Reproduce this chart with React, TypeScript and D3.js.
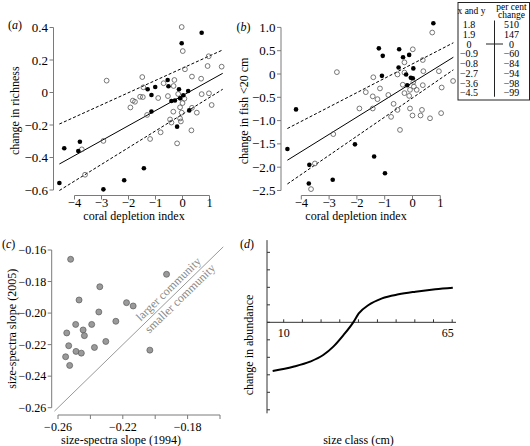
import React from "react";
import * as d3 from "d3";

// ---------- Panel (a): change in richness vs coral depletion index ----------
const aFilledX = [-4.56, -4.38, -3.8, -3.86, -2.93, -2.16, -1.43, -1.29, -1.01, -1.15, -1.15, -0.55, -0.52, -0.13, 0.21, 0.03, -0.09, -0.41, -0.28, -0.2, 0.25, -0.03, 0.71];
const aFilledY = [-0.557, -0.343, -0.303, -0.36, -0.596, -0.54, -0.466, 0.02, 0.034, -0.015, -0.117, 0.077, 0.038, 0.02, 0.009, -0.017, -0.036, -0.052, -0.049, -0.21, -0.11, 0.303, 0.368];
const aOpenX = [-2.81, -2.93, -3.73, -3.61, -1.93, -1.76, -1.49, -1.45, -1.47, -1.31, -1.2, -0.9, -0.81, -0.7, -0.54, -0.46, -0.41, -0.33, -0.3, -0.2, -0.16, -0.09, -0.09, -0.06, -0.03, 0.01, 0.0, 0.07, 0.09, 0.33, 0.35, 0.35, 0.53, 0.69, 0.71, 0.97, 0.93, 1.45, 0.98, 1.08, -1.57, -1.84, -0.03, -0.34];
const aOpenY = [0.073, -0.298, -0.35, -0.506, -0.092, -0.057, 0.095, 0.032, -0.028, -0.138, -0.286, -0.034, -0.245, 0.057, -0.022, -0.166, -0.185, 0.04, 0.077, -0.313, -0.009, -0.091, -0.16, -0.178, 0.403, 0.255, -0.065, -0.038, 0.143, -0.233, -0.094, 0.098, -0.124, 0.085, -0.01, 0.223, 0.163, 0.159, -0.005, -0.077, -0.026, -0.05, -0.124, -0.118];
const aLineX = [-4.56, 1.49];
const aFitY = [-0.44, 0.118];
const aUpperY = [-0.194, 0.262];
const aLowerY = [-0.603, 0.02];
const aYTicks = [-0.6, -0.4, -0.2, 0, 0.2, 0.4];
const aYTickLabels = ["\u22120.6", "\u22120.4", "\u22120.2", "0", "0.2", "0.4"];

// ---------- Panel (b): change in fish <20 cm vs coral depletion index ----------
const bFilledX = [-4.5, -4.19, -3.71, -3.73, -2.87, -2.07, -1.38, -0.99, -1.21, -1.07, -1.1, -0.48, -0.34, -0.12, -0.5, -0.23, -0.06, 0.03, 0.01, -0.19, 0.75];
const bFilledY = [-1.61, -0.76, -1.95, -2.35, -2.27, -1.51, -1.77, -2.13, 0.55, 0.39, -0.04, 0.53, 0.36, 0.41, 0.14, -0.01, -0.08, 0.12, -0.09, -0.24, 1.09];
const bOpenX = [-2.72, -2.85, -3.51, -3.65, -1.41, -1.68, -1.17, -1.43, -1.26, -1.91, -1.43, -0.87, -0.77, -0.68, -0.54, -0.45, -0.54, -0.29, -0.29, -0.35, -0.29, -0.09, -0.12, 0.05, -0.09, 0.0, 0.29, 0.34, 0.63, 1.03, 0.01, 0.71, 0.37, 0.39, 0.95, 1.46, 1.05, 0.03, 0.37, 0.15];
const bOpenY = [0.04, -1.29, -1.92, -2.47, -0.07, -0.39, -0.31, -0.48, -0.54, -0.74, -0.74, -0.45, -0.92, -0.64, -0.77, -1.2, -0.01, 0.25, 0.03, -0.23, -0.41, -0.34, -0.47, -0.27, -0.74, -0.89, -0.89, -0.77, -0.95, -0.84, 0.53, 0.89, 0.3, 0.06, 0.06, -0.15, -0.29, -0.17, -0.24, -0.34];
const bLineX = [-4.5, 1.47];
const bFitY = [-1.85, 0.36];
const bUpperY = [-1.17, 0.67];
const bLowerY = [-2.36, 0.09];
const bYTicks = [-2.5, -2.0, -1.5, -1.0, -0.5, 0, 0.5, 1.0];
const bYTickLabels = ["\u22122.5", "\u22122.0", "\u22121.5", "\u22121.0", "\u22120.5", "0", "0.5", "1.0"];

const depletionTicks = [-4, -3, -2, -1, 0, 1];
const depletionTickLabels = ["\u22124", "\u22123", "\u22122", "\u22121", "0", "1"];

// ---------- Table ----------
const tableXY = ["1.8", "1.9", "0", "\u22120.9", "\u22120.8", "\u22122.7", "\u22123.6", "\u22124.5"];
const tablePct = ["510", "147", "0", "\u221260", "\u221284", "\u221294", "\u221298", "\u221299"];

// ---------- Panel (c): size-spectra slopes ----------
const slope1994 = [-0.2522, -0.193, -0.2342, -0.247, -0.2348, -0.2177, -0.2136, -0.2243, -0.2491, -0.2392, -0.2445, -0.2437, -0.2546, -0.2305, -0.2534, -0.2375, -0.2489, -0.2456, -0.2033, -0.2553, -0.2528];
const slope2005 = [-0.1659, -0.1754, -0.1833, -0.1917, -0.1993, -0.1934, -0.1955, -0.2052, -0.2072, -0.2072, -0.2107, -0.2143, -0.2126, -0.218, -0.2207, -0.2218, -0.2243, -0.2254, -0.2235, -0.2277, -0.2332];
const cTicks = [-0.26, -0.24, -0.22, -0.2, -0.18, -0.16];
const cYTickLabels = ["\u22120.26", "\u22120.24", "\u22120.22", "\u22120.20", "\u22120.18", "\u22120.16"];
const cXTickLabels = ["\u22120.26", "", "\u22120.22", "", "\u22120.18", ""];
const cDiagonal = [-0.2622, -0.158];

// ---------- Panel (d): change in abundance by size class ----------
const sizeClass = [6.4, 13.1, 18.6, 22.9, 26.2, 29.5, 32.7, 34.5, 37.7, 42.1, 47.5, 53.0, 59.5, 65.2];
const abundanceChange = [-2.78, -2.54, -2.25, -1.87, -1.39, -0.73, 0, 0.51, 0.99, 1.37, 1.6, 1.75, 1.89, 1.98];
const dXTicks = [10, 16.1, 22.2, 28.3, 34.4, 40.6, 46.7, 52.8, 58.9, 65];
const dYTicks = [-5, -4, -3, -2, -1, 0, 1, 2, 3, 4];

const FONT = "Liberation Serif, Times New Roman, DejaVu Serif, serif";
const AX = "#7a7a7a";

type ScatterProps = {
  xs: d3.ScaleLinear<number, number>;
  ys: d3.ScaleLinear<number, number>;
  yAxisX: number;
  xAxisY: number;
  fx: number[]; fy: number[]; ox: number[]; oy: number[];
  lineX: number[]; fit: number[]; up: number[]; lo: number[];
  yTicks: number[]; yTickLabels: string[];
  yTitle: string; yTitleX: number; xTitleX: number;
  tag: string; tagX: number; tagY: number;
};

function ScatterPanel(p: ScatterProps) {
  const line = d3.line<[number, number]>().x((d) => p.xs(d[0])).y((d) => p.ys(d[1]));
  const seg = (ys: number[]) => line(p.lineX.map((x, i) => [x, ys[i]] as [number, number])) || "";
  const yT = p.yTicks;
  return (
    <g>
      <line x1={p.yAxisX} x2={p.yAxisX} y1={p.ys(yT[0])} y2={p.ys(yT[yT.length - 1])} stroke={AX} />
      {yT.map((t, i) => (
        <g key={"yt" + i}>
          <line x1={p.yAxisX - 4} x2={p.yAxisX} y1={p.ys(t)} y2={p.ys(t)} stroke={AX} />
          <text x={p.yAxisX - 5.5} y={p.ys(t) + 4.5} textAnchor="end" style={{ fontSize: "13px" }}>{p.yTickLabels[i]}</text>
        </g>
      ))}
      <line x1={p.xs(depletionTicks[0])} x2={p.xs(depletionTicks[depletionTicks.length - 1])} y1={p.xAxisY} y2={p.xAxisY} stroke={AX} />
      {depletionTicks.map((t, i) => (
        <g key={"xt" + i}>
          <line x1={p.xs(t)} x2={p.xs(t)} y1={p.xAxisY} y2={p.xAxisY + 4} stroke={AX} />
          <text x={p.xs(t)} y={p.xAxisY + 11.5} textAnchor="middle" style={{ fontSize: "12.5px" }}>{depletionTickLabels[i]}</text>
        </g>
      ))}
      <text x={p.xTitleX} y={p.xAxisY + 24.5} textAnchor="middle">coral depletion index</text>
      <text transform={`translate(${p.yTitleX},${(p.ys(yT[0]) + p.ys(yT[yT.length - 1])) / 2 + 2}) rotate(-90)`} textAnchor="middle">{p.yTitle}</text>
      <text x={p.tagX} y={p.tagY}>(<tspan fontStyle="italic">{p.tag}</tspan>)</text>
      <path d={seg(p.fit)} stroke="#000" strokeWidth={1} fill="none" />
      <path d={seg(p.up)} stroke="#000" strokeWidth={1} fill="none" strokeDasharray="3,2" />
      <path d={seg(p.lo)} stroke="#000" strokeWidth={1} fill="none" strokeDasharray="3,2" />
      {p.ox.map((x, i) => (
        <circle key={"o" + i} cx={p.xs(x)} cy={p.ys(p.oy[i])} r={2.4} fill="none" stroke="#555" strokeWidth={0.8} />
      ))}
      {p.fx.map((x, i) => (
        <circle key={"f" + i} cx={p.xs(x)} cy={p.ys(p.fy[i])} r={2.3} fill="#000" />
      ))}
    </g>
  );
}

export default function App() {
  const xA = d3.scaleLinear().domain([-4, 1]).range([74.5, 209.5]);
  const yA = d3.scaleLinear().domain([-0.6, 0.4]).range([190, 27.5]);
  const xB = d3.scaleLinear().domain([-4, 1]).range([301.3, 440.3]);
  const yB = d3.scaleLinear().domain([-2.5, 1.0]).range([190.5, 27.4]);

  const xC = d3.scaleLinear().domain([-0.26, -0.16]).range([58, 220]);
  const yC = d3.scaleLinear().domain([-0.26, -0.16]).range([407.7, 250]);
  const cYAxisX = 51.7;
  const cXAxisY = 415;

  const xD = d3.scaleLinear().domain([10, 65]).range([283.7, 452.2]);
  const yD = d3.scaleLinear().domain([-5.2, 4.7]).range([413.3, 240.1]);
  const dYAxisX = 267;
  const curve = d3
    .line<number>()
    .x((_, i) => xD(sizeClass[i]))
    .y((d) => yD(d))
    .curve(d3.curveMonotoneX);

  const tLeft = 458, tRight = 529.5, tTop = 2.5, tBottom = 100;
  const rowY = (i: number) => 24.5 + i * 9.75;
  const midAngle = -44.3;

  return (
    <svg width={530} height={446}
      style={{ position: "absolute", left: 0, top: 0, background: "#fff", fontFamily: FONT, fontSize: "12px" }}
      fill="#000">
      <ScatterPanel xs={xA} ys={yA} yAxisX={53.5} xAxisY={195.5}
        fx={aFilledX} fy={aFilledY} ox={aOpenX} oy={aOpenY}
        lineX={aLineX} fit={aFitY} up={aUpperY} lo={aLowerY}
        yTicks={aYTicks} yTickLabels={aYTickLabels}
        yTitle="change in richness" yTitleX={19} xTitleX={134}
        tag="a" tagX={8} tagY={29} />
      <ScatterPanel xs={xB} ys={yB} yAxisX={281} xAxisY={195.5}
        fx={bFilledX} fy={bFilledY} ox={bOpenX} oy={bOpenY}
        lineX={bLineX} fit={bFitY} up={bUpperY} lo={bLowerY}
        yTicks={bYTicks} yTickLabels={bYTickLabels}
        yTitle="change in fish <20 cm" yTitleX={247.5} xTitleX={356}
        tag="b" tagX={236.5} tagY={31} />

      <g style={{ fontSize: "10px" }}>
        <rect x={tLeft} y={tTop} width={tRight - tLeft} height={tBottom - tTop} fill="none" stroke="#222" strokeWidth={1} />
        <text x={471.5} y={13.5} textAnchor="middle" style={{ fontSize: "9.5px" }}>x and y</text>
        <text x={511.5} y={9.5} textAnchor="middle" style={{ fontSize: "9.5px" }}>per cent</text>
        <text x={511.5} y={18} textAnchor="middle" style={{ fontSize: "9.5px" }}>change</text>
        <line x1={494.5} x2={494.5} y1={rowY(0) - 4} y2={rowY(tableXY.length - 1) + 4} stroke="#222" strokeWidth={1} />
        <line x1={486} x2={503} y1={rowY(2)} y2={rowY(2)} stroke="#222" strokeWidth={1} />
        {tableXY.map((v, i) => (
          <text key={"tx" + i} x={469} y={rowY(i) + 3.5} textAnchor="middle">{v}</text>
        ))}
        {tablePct.map((v, i) => (
          <text key={"tp" + i} x={511.5} y={rowY(i) + 3.5} textAnchor="middle">{v}</text>
        ))}
      </g>

      <g>
        <line x1={cYAxisX} x2={cYAxisX} y1={yC(-0.26)} y2={yC(-0.16)} stroke={AX} />
        {cTicks.map((t, i) => (
          <g key={"cy" + i}>
            <line x1={cYAxisX - 4} x2={cYAxisX} y1={yC(t)} y2={yC(t)} stroke={AX} />
            <text x={cYAxisX - 5.5} y={yC(t) + 4.2} textAnchor="end">{cYTickLabels[i]}</text>
          </g>
        ))}
        <line x1={xC(-0.26)} x2={xC(-0.16)} y1={cXAxisY} y2={cXAxisY} stroke={AX} />
        {cTicks.map((t, i) => (
          <g key={"cx" + i}>
            <line x1={xC(t)} x2={xC(t)} y1={cXAxisY} y2={cXAxisY + 4} stroke={AX} />
            {cXTickLabels[i] && (
              <text x={xC(t)} y={cXAxisY + 15.5} textAnchor="middle">{cXTickLabels[i]}</text>
            )}
          </g>
        ))}
        <text x={121} y={443.5} textAnchor="middle">size-spectra slope (1994)</text>
        <text transform={`translate(16,${(yC(-0.26) + yC(-0.16)) / 2}) rotate(-90)`} textAnchor="middle">size-spectra slope (2005)</text>
        <text x={2} y={247.5}>(<tspan fontStyle="italic">c</tspan>)</text>
        <line x1={xC(cDiagonal[0])} y1={yC(cDiagonal[0])} x2={xC(cDiagonal[1])} y2={yC(cDiagonal[1])} stroke="#999" strokeWidth={1} />
        <text transform={`translate(168.5,289) rotate(${midAngle})`} textAnchor="middle" dominantBaseline="central" fill="#888">larger community</text>
        <text transform={`translate(180,298.5) rotate(${midAngle})`} textAnchor="middle" dominantBaseline="central" fill="#888">smaller community</text>
        {slope1994.map((x, i) => (
          <circle key={"c" + i} cx={xC(x)} cy={yC(slope2005[i])} r={3} fill="#9a9a9a" stroke="#5a5a5a" strokeWidth={0.7} />
        ))}
      </g>

      <g>
        <line x1={dYAxisX} x2={dYAxisX} y1={yD(4.7)} y2={yD(-5.2)} stroke="#333" strokeWidth={1} />
        {dYTicks.map((t, i) => (
          <line key={"dy" + i} x1={dYAxisX} x2={dYAxisX + 3} y1={yD(t)} y2={yD(t)} stroke="#333" />
        ))}
        <line x1={dYAxisX} x2={456} y1={yD(0)} y2={yD(0)} stroke="#333" strokeWidth={1} />
        {dXTicks.map((t, i) => (
          <line key={"dx" + i} x1={xD(t)} x2={xD(t)} y1={yD(0)} y2={yD(0) - 3} stroke="#333" />
        ))}
        <text x={xD(dXTicks[0])} y={yD(0) + 15} textAnchor="middle">10</text>
        <text x={xD(dXTicks[dXTicks.length - 1]) + 1.5} y={yD(0) + 15} textAnchor="end">65</text>
        <path d={curve(abundanceChange) || ""} fill="none" stroke="#000" strokeWidth={2} />
        <text x={358.5} y={443.5} textAnchor="middle">size class (cm)</text>
        <text transform={`translate(252.5,345) rotate(-90)`} textAnchor="middle">change in abundance</text>
        <text x={240} y={247.5}>(<tspan fontStyle="italic">d</tspan>)</text>
      </g>
    </svg>
  );
}
